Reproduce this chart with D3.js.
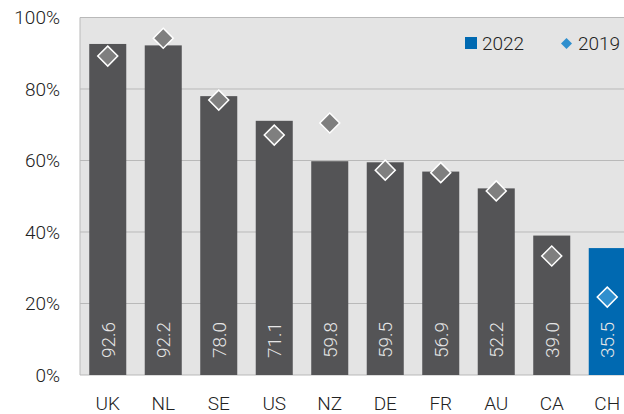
<!DOCTYPE html>
<html>
<head>
<meta charset="utf-8">
<script src="https://cdn.jsdelivr.net/npm/d3@7"></script>
<style>
  body { margin: 0; background: #fff; }
  svg { display: block; font-family: Roboto, "Open Sans", sans-serif; font-weight: 300; }
</style>
</head>
<body>
<div id="viz"></div>
<script>
const countries = ["UK", "NL", "SE", "US", "NZ", "DE", "FR", "AU", "CA", "CH"];
const values2022 = [92.6, 92.2, 78.0, 71.1, 59.8, 59.5, 56.9, 52.2, 39.0, 35.5];
const values2019 = [89.2, 94.2, 76.9, 67.1, 70.5, 57.3, 56.6, 51.5, 33.3, 21.8];
const yTicks = [0, 20, 40, 60, 80, 100];
const highlight = "CH";

const margin = { top: 17.5, right: -11, bottom: 39, left: 80 },
  width = 624 - margin.left - margin.right,
  height = 414 - margin.top - margin.bottom;

const svg = d3.select("#viz")
  .append("svg")
  .attr("width", 624)
  .attr("height", 414);

const g = svg.append("g")
  .attr("transform", `translate(${margin.left},${margin.top})`);

const x = d3.scaleBand()
  .domain(countries)
  .range([0, width])
  .paddingInner(0.333)
  .paddingOuter(0.1665);

const y = d3.scaleLinear()
  .domain([0, 100])
  .range([height, 0]);

// plot background
g.append("rect")
  .attr("width", width)
  .attr("height", height)
  .attr("fill", "#e4e4e4");

// gridlines
g.selectAll("line.grid")
  .data(yTicks)
  .enter()
  .append("line")
  .attr("class", "grid")
  .attr("x1", 0)
  .attr("x2", width)
  .attr("y1", d => y(d))
  .attr("y2", d => y(d))
  .attr("stroke", "#b9b9b9")
  .attr("stroke-width", 1);

g.append("line")
  .attr("x1", 0).attr("x2", 0)
  .attr("y1", 0).attr("y2", height)
  .attr("stroke", "#b9b9b9");

// y axis labels
const yAxis = d3.axisLeft(y)
  .tickValues(yTicks)
  .tickFormat(d => d + "%")
  .tickSize(0)
  .tickPadding(20);

g.append("g")
  .call(yAxis)
  .call(a => a.select(".domain").remove())
  .selectAll("text")
  .attr("font-family", "Roboto, sans-serif")
  .attr("font-weight", 300)
  .attr("font-size", 19)
  .attr("fill", "#222");

// x axis labels
const xAxis = d3.axisBottom(x).tickSize(0).tickPadding(21.5);

g.append("g")
  .attr("transform", `translate(0,${height})`)
  .call(xAxis)
  .call(a => a.select(".domain").remove())
  .selectAll("text")
  .attr("font-family", "Roboto, sans-serif")
  .attr("font-weight", 300)
  .attr("font-size", 19)
  .attr("fill", "#222");

// bars
const data = countries.map((c, i) => ({ c: c, v22: values2022[i], v19: values2019[i] }));

g.selectAll("rect.bar")
  .data(data)
  .enter()
  .append("rect")
  .attr("class", "bar")
  .attr("x", d => x(d.c))
  .attr("y", d => y(d.v22))
  .attr("width", x.bandwidth())
  .attr("height", d => height - y(d.v22))
  .attr("fill", d => d.c === highlight ? "#0069b1" : "#545456");

// value labels, rotated
g.selectAll("text.val")
  .data(data)
  .enter()
  .append("text")
  .attr("class", "val")
  .attr("transform", d => `translate(${x(d.c) + x.bandwidth() / 2 + 7},${height - 17}) rotate(-90)`)
  .attr("font-size", 19)
  .attr("font-weight", 300)
  .attr("fill", "#e6e6e6")
  .text(d => d.v22.toFixed(1));

// 2019 diamonds
const diamond = d3.symbol().type(d3.symbolSquare).size(200);

g.selectAll("path.dia")
  .data(data)
  .enter()
  .append("path")
  .attr("class", "dia")
  .attr("d", diamond)
  .attr("transform", d => `translate(${x(d.c) + x.bandwidth() / 2},${y(d.v19)}) rotate(45)`)
  .attr("fill", d => d.c === highlight ? "#2f8fce" : "#7f7f7f")
  .attr("stroke", "#fff")
  .attr("stroke-width", 1.5);

// legend
const legend = svg.append("g");
legend.append("rect")
  .attr("x", 465).attr("y", 37)
  .attr("width", 12).attr("height", 12)
  .attr("fill", "#0069b1");
legend.append("text")
  .attr("x", 482).attr("y", 50)
  .attr("font-size", 19)
  .attr("fill", "#222")
  .text("2022");
legend.append("path")
  .attr("d", d3.symbol().type(d3.symbolSquare).size(60))
  .attr("transform", "translate(566.5,43.5) rotate(45)")
  .attr("fill", "#2f8fce");
legend.append("text")
  .attr("x", 578).attr("y", 50)
  .attr("font-size", 19)
  .attr("fill", "#222")
  .text("2019");
</script>
</body>
</html>
